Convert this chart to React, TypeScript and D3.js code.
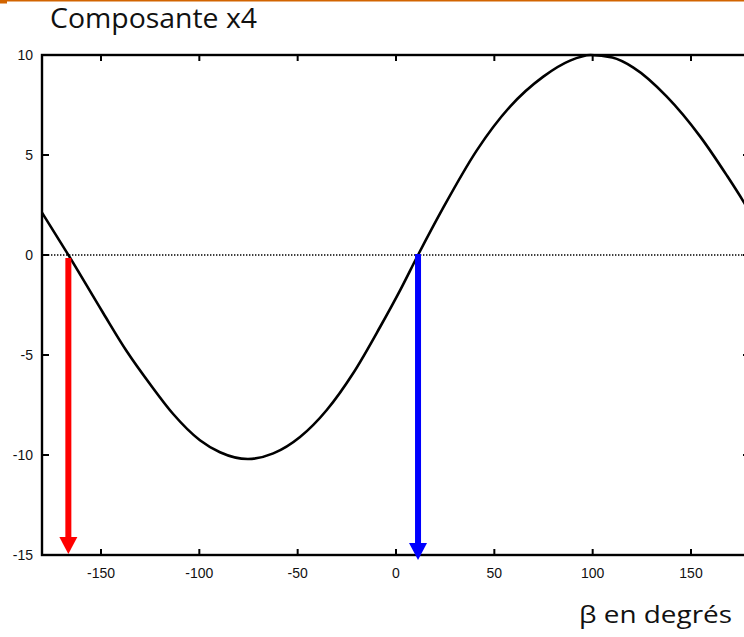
import React from "react";
import * as d3 from "d3";

// Curve samples: angle β (degrees) and component x4
const betaDeg = [-180, -166.7, -148.9, -137, -125.1, -113.3, -99.7, -89.5, -75.3, -62.4, -48.8, -35.2, -21.7, -8.1, 2.0, 11.2, 24.1, 41, 58, 74.9, 88.5, 99, 110, 120.7, 137.7, 154.7, 168.2, 177, 180];
const x4Values = [2.12, 0.02, -2.9, -4.8, -6.45, -7.95, -9.26, -9.86, -10.2, -9.92, -9.1, -7.75, -5.9, -3.6, -1.78, 0.0, 2.38, 5.22, 7.42, 8.92, 9.72, 10, 9.87, 9.37, 7.92, 5.92, 3.98, 2.62, 2.12];

const xTicks = [-150, -100, -50, 0, 50, 100, 150];
const yTicks = [10, 5, 0, -5, -10, -15];

// Roots marked by arrows: angle, start value, end value, colour
const arrowBeta = [-166.6, 11.2];
const arrowFrom = [-0.15, 0.05];
const arrowTo = [-14.95, -15.25];
const arrowColor = ["#ff0000", "#0000ff"];

const W = 744;
const H = 637;
const left = 42;
const right = 750;
const top = 55;
const bottom = 555;

export default function App() {
  const x = d3.scaleLinear().domain([-180, 180]).range([left, right]);
  const y = d3.scaleLinear().domain([-15, 10]).range([bottom, top]);

  const pts: [number, number][] = betaDeg.map((b, i) => [b, x4Values[i]]);
  const line = d3
    .line<[number, number]>()
    .x((d) => x(d[0]))
    .y((d) => y(d[1]))
    .curve(d3.curveMonotoneX);

  const tickLen = 7;
  const tickFont = "'Liberation Sans', Arial, sans-serif";

  return (
    <svg
      width={W}
      height={H}
      style={{ position: "absolute", left: 0, top: 0, background: "#ffffff" }}
    >
      <defs>
        <clipPath id="plot">
          <rect x={left} y={top - 3} width={right - left} height={bottom - top + 10} />
        </clipPath>
      </defs>

      {/* header rule */}
      <rect x={0} y={0} width={W} height={1.5} fill="#d26400" />
      <rect x={0} y={0} width={7} height={3.5} fill="#d26400" />

      <text
        x={50}
        y={28}
        fontFamily="'Open Sans', sans-serif"
        fontSize={28}
        fill="#111"
        textLength={207}
        lengthAdjust="spacingAndGlyphs"
      >
        Composante x4
      </text>

      {/* zero line */}
      <line
        x1={left}
        x2={right}
        y1={y(0)}
        y2={y(0)}
        stroke="#000"
        strokeWidth={1.3}
        strokeDasharray="1.4,1.6"
      />

      {/* curve */}
      <path
        d={line(pts) || ""}
        fill="none"
        stroke="#000"
        strokeWidth={2.6}
        clipPath="url(#plot)"
      />

      {/* frame */}
      <rect
        x={left}
        y={top}
        width={right - left}
        height={bottom - top}
        fill="none"
        stroke="#000"
        strokeWidth={2.4}
      />

      {/* x ticks, bottom and top */}
      {xTicks.map((t) => (
        <g key={"x" + t}>
          <line x1={x(t)} x2={x(t)} y1={bottom} y2={bottom - tickLen + 1} stroke="#000" strokeWidth={2} />
          <line x1={x(t)} x2={x(t)} y1={top} y2={top + tickLen - 1} stroke="#000" strokeWidth={2} />
          <text
            x={x(t)}
            y={578}
            textAnchor="middle"
            fontFamily={tickFont}
            fontSize={14}
            fill="#111"
          >
            {t}
          </text>
        </g>
      ))}

      {/* y ticks, left and right */}
      {yTicks.map((t) => (
        <g key={"y" + t}>
          <line x1={left} x2={left + tickLen} y1={y(t)} y2={y(t)} stroke="#000" strokeWidth={2} />
          <line x1={right} x2={right - tickLen} y1={y(t)} y2={y(t)} stroke="#000" strokeWidth={2} />
          <text
            x={33}
            y={y(t) + 5}
            textAnchor="end"
            fontFamily={tickFont}
            fontSize={14}
            fill="#111"
          >
            {t}
          </text>
        </g>
      ))}

      {/* arrows */}
      {arrowBeta.map((b, i) => {
        const ax = x(b);
        const y0 = y(arrowFrom[i]);
        const y1 = y(arrowTo[i]);
        const headH = 17;
        const headW = 9;
        return (
          <g key={"a" + i} fill={arrowColor[i]}>
            <rect x={ax - 3} y={y0} width={6} height={y1 - headH - y0 + 1} />
            <path d={`M${ax - headW},${y1 - headH} L${ax + headW},${y1 - headH} L${ax},${y1} Z`} />
          </g>
        );
      })}

      <text
        x={579}
        y={623}
        fontFamily="'Open Sans', sans-serif"
        fontSize={24}
        fill="#111"
        textLength={153}
        lengthAdjust="spacingAndGlyphs"
      >
        β en degrés
      </text>
    </svg>
  );
}
